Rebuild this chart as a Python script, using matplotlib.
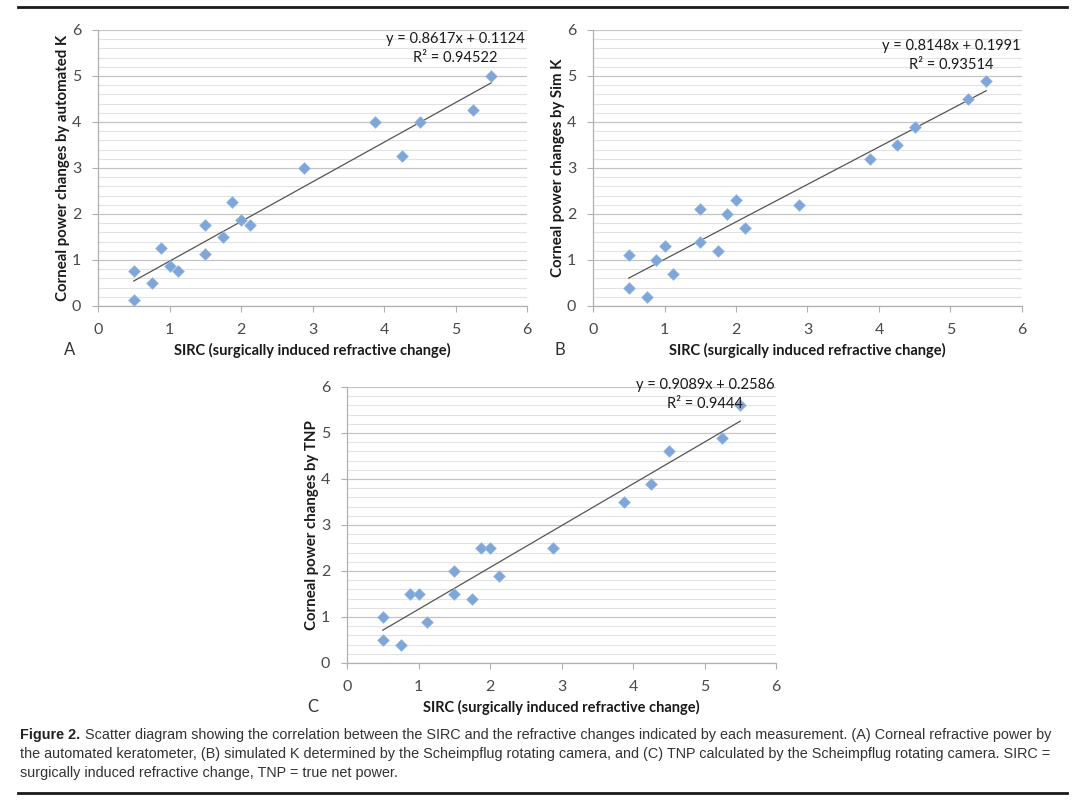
import numpy as np
import matplotlib
matplotlib.use("Agg")
import matplotlib.pyplot as plt
from matplotlib.ticker import MultipleLocator

# SIRC values shared by all three panels
sirc = [0.5, 0.5, 0.75, 0.875, 1.0, 1.125, 1.5, 1.5, 1.75, 1.875, 2.0, 2.125,
        2.875, 3.875, 4.25, 4.5, 5.25, 5.5]

# corneal power changes per measurement
auto_k = [0.75, 0.125, 0.5, 1.25, 0.875, 0.75, 1.75, 1.125, 1.5, 2.25, 1.875, 1.75,
          3.0, 4.0, 3.25, 4.0, 4.25, 5.0]
sim_k = [1.1, 0.4, 0.2, 1.0, 1.3, 0.7, 2.1, 1.4, 1.2, 2.0, 2.3, 1.7,
         2.2, 3.2, 3.5, 3.9, 4.5, 4.9]
tnp = [1.0, 0.5, 0.4, 1.5, 1.5, 0.9, 2.0, 1.5, 1.4, 2.5, 2.5, 1.9,
       2.5, 3.5, 3.9, 4.6, 4.9, 5.6]

# trendline coefficients as printed on the chart
slopes = [0.8617, 0.8148, 0.9089]
intercepts = [0.1124, 0.1991, 0.2586]
r2_labels = ["0.94522", "0.93514", "0.9444"]

ylabels = ["Corneal power changes by automated K",
           "Corneal power changes by Sim K",
           "Corneal power changes by TNP"]
panel_letters = ["A", "B", "C"]
xlabel = "SIRC (surgically induced refractive change)"

W, H = 1080, 806
fig = plt.figure(figsize=(W / 100, H / 100), dpi=100)
fig.patch.set_facecolor("white")

FONT = "Lato"
TICK_COL = "#4a4a4a"


def px_rect(left, top, right, bottom):
    return [left / W, 1 - bottom / H, (right - left) / W, (bottom - top) / H]


# (left, top, right, bottom) in pixels, and equation center (x, y)
panels = [
    ((98, 30, 527, 306), (455, 32)),
    ((593, 30, 1022, 306), (951, 39)),
    ((347, 387, 776, 663), (705, 378)),
]
series = [auto_k, sim_k, tnp]

for i, ((l, t, r, b), (ex, ey)) in enumerate(panels):
    ax = fig.add_axes(px_rect(l, t, r, b))
    ax.set_xlim(0, 6)
    ax.set_ylim(0, 6)
    ax.xaxis.set_major_locator(MultipleLocator(1))
    ax.yaxis.set_major_locator(MultipleLocator(1))
    ax.yaxis.set_minor_locator(MultipleLocator(0.2))
    ax.grid(True, which="major", axis="y", color="#c4c4c4", lw=0.9)
    ax.grid(True, which="minor", axis="y", color="#e2e2e2", lw=0.8)
    ax.set_axisbelow(True)
    for s in ["top", "right"]:
        ax.spines[s].set_visible(False)
    for s in ["left", "bottom"]:
        ax.spines[s].set_color("#b0b0b0")
        ax.spines[s].set_linewidth(0.9)
    ax.tick_params(which="major", direction="out", length=4, color="#b0b0b0",
                   labelsize=11.5, labelcolor=TICK_COL, pad=8)
    ax.tick_params(which="minor", length=0)
    for lab in ax.get_xticklabels() + ax.get_yticklabels():
        lab.set_fontfamily(FONT)

    x = np.array(sirc)
    y = np.array(series[i])
    ax.scatter(x, y, marker="D", s=36, color="#7ea6d8", edgecolors="#9bbbe3",
               linewidths=0.5, zorder=3, clip_on=False)

    xs = np.array([min(sirc), max(sirc)])
    ax.plot(xs, slopes[i] * xs + intercepts[i], color="#555555", lw=0.9, zorder=2)

    ax.set_xlabel(xlabel, fontfamily=FONT, fontweight="bold", fontsize=10.5,
                  color="#1a1a1a")
    ax.xaxis.label.set_va("center")
    ax.set_ylabel(ylabels[i], fontfamily=FONT, fontweight="bold", fontsize=10.8,
                  color="#1a1a1a")
    ax.yaxis.set_label_coords(-35 / (r - l), 0.5)
    ax.yaxis.label.set_va("center")

    # x label / letter positions in pixels
    lab_y = 350 if i < 2 else 707
    ax.xaxis.set_label_coords(0.5, (b - lab_y) / (b - t))
    letter_x = [70, 560, 313][i]
    fig.text(letter_x / W, 1 - lab_y / H, panel_letters[i], fontfamily=FONT,
             fontsize=12, color="#333333", ha="center", va="center")

    eq = f"y = {slopes[i]:.4f}x + {intercepts[i]:.4f}\nR\u00b2 = {r2_labels[i]}"
    fig.text(ex / W, 1 - ey / H, eq, fontfamily=FONT, fontsize=10.5,
             color="#1a1a1a", ha="center", va="top", multialignment="center",
             linespacing=1.45)

# rules
fig.add_artist(plt.Line2D([18 / W, 1067 / W], [1 - 7 / H, 1 - 7 / H], color="#1a1a1a", lw=2.0))
fig.add_artist(plt.Line2D([18 / W, 1067 / W], [1 - 793 / H, 1 - 793 / H], color="#1a1a1a", lw=2.0))

# caption
cap_font = "Liberation Sans"
cap_size = 10.4
cap_lines = [
    "Scatter diagram showing the correlation between the SIRC and the refractive changes indicated by each measurement. (A) Corneal refractive power by",
    "the automated keratometer, (B) simulated K determined by the Scheimpflug rotating camera, and (C) TNP calculated by the Scheimpflug rotating camera. SIRC =",
    "surgically induced refractive change, TNP = true net power.",
]
cap_y = [735, 754, 773]
t0 = fig.text(20 / W, 1 - cap_y[0] / H, "Figure 2.", fontfamily=cap_font,
              fontweight="bold", fontsize=cap_size, color="#222222", va="center")
fig.canvas.draw()
bb = t0.get_window_extent(fig.canvas.get_renderer())
fig.text((bb.x1 + 5) / W, 1 - cap_y[0] / H, cap_lines[0], fontfamily=cap_font,
         fontsize=cap_size, color="#333333", va="center")
for line, yy in zip(cap_lines[1:], cap_y[1:]):
    fig.text(20 / W, 1 - yy / H, line, fontfamily=cap_font, fontsize=cap_size,
             color="#333333", va="center")

fig.savefig("out.png", dpi=100)
